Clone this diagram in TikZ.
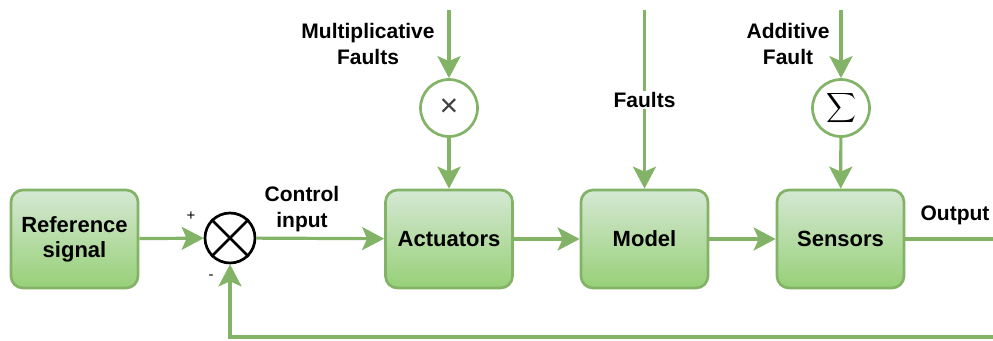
\documentclass[tikz,border=0pt]{standalone}
\usepackage{amsmath}
\usepackage{fontspec}
\setmainfont{Liberation Sans}
\usetikzlibrary{arrows.meta}
\definecolor{edge}{HTML}{82B366}
\definecolor{filltop}{HTML}{D5E8D4}
\definecolor{fillbot}{HTML}{97D077}
\begin{document}
\begin{tikzpicture}[x=1pt,y=-1pt,
  lbl/.style={font=\fontsize{21}{25.5}\selectfont\bfseries, align=center, inner sep=0pt},
  block/.style={draw=edge, line width=2.7pt, rounded corners=12pt,
    top color=filltop, bottom color=fillbot,
    minimum width=127pt, minimum height=98pt, inner sep=0pt,
    font=\fontsize{22}{25}\selectfont\bfseries, align=center},
  opcircle/.style={circle, draw=edge, line width=2.7pt, fill=white,
    minimum size=57pt, inner sep=0pt},
  flow/.style={draw=edge, line width=3.2pt,
    -{Stealth[length=22pt,width=23pt,inset=5pt]}},
  wire/.style={draw=edge, line width=3.2pt},
  sign/.style={font=\fontsize{15}{15}\selectfont, inner sep=0pt}
]
\useasboundingbox (0,0) rectangle (993,340);

% blocks of the loop
\node[block] (ref)  at (74.5,239)  {Reference\\signal};
\node[block] (act)  at (449,239)   {Actuators};
\node[block] (mod)  at (644.5,239) {Model};
\node[block] (sens) at (840.5,239) {Sensors};

% comparator
\node[circle, draw=black, line width=2.7pt, fill=white, minimum size=50pt,
  inner sep=0pt] (sum) at (230,238) {};
\draw[line width=2.7pt] (sum.45) -- (sum.225) (sum.135) -- (sum.315);
\node[sign] (plus)  at (191,216) {+};
\node[sign] (minus) at (211,277) {-};

% fault injection points
\node[opcircle] (mul) at (449,108)
  {\fontsize{32}{32}\selectfont\color{black!75}×};
\node[opcircle] (add) at (841,108)
  {\fontsize{21}{21}\selectfont$\displaystyle\sum$};

% free ends
\coordinate (mulIn) at (449,10);
\coordinate (modIn) at (644.5,10);
\coordinate (addIn) at (841,10);
\coordinate (outEnd) at (993,239);
\coordinate (fbStart) at (993,337);

% connectors
\draw[flow] (ref) -- (sum);
\draw[flow] (sum) -- (act);
\draw[flow] (act) -- (mod);
\draw[flow] (mod) -- (sens);
\draw[wire] (sens) -- (outEnd);
\draw[flow] (fbStart) -| (sum.south);
\draw[flow] (mulIn) -- (mul);
\draw[flow] (mul) -- (act);
\draw[flow] (addIn) -- (add);
\draw[flow] (add) -- (sens);
\draw[flow] (modIn) -- (mod);

% labels
\node[lbl] (lmul) at (368,44) {Multiplicative\\Faults};
\node[lbl] (ladd) at (788,44) {Additive\\Fault};
\node[lbl, fill=white, inner sep=1pt] (lmod) at (644.5,100) {Faults};
\node[lbl] (lctl) at (302,209) {Control\\input};
\node[lbl] (lout) at (955,215) {Output};
\end{tikzpicture}
\end{document}
